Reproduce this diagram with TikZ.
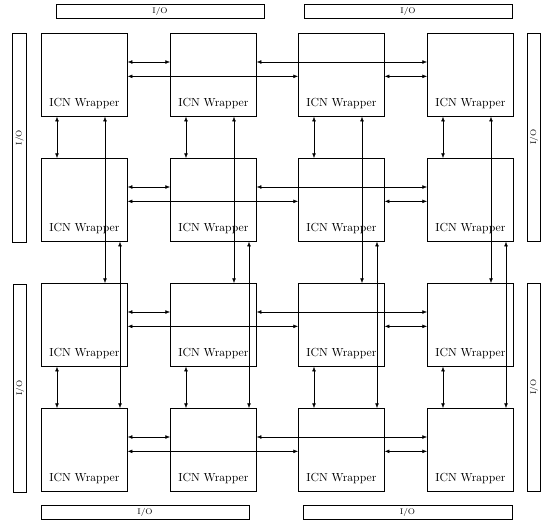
\documentclass[tikz,border=0pt]{standalone}
\usetikzlibrary{arrows.meta}
\begin{document}
\begin{tikzpicture}[x=0.03cm, y=-0.03cm, >={Latex[length=4pt,width=3.2pt]},
	wrapper/.style={draw, semithick, anchor=north west, minimum width=2.58cm, minimum height=2.49cm, inner sep=0pt},
	wraptext/.style={inner sep=0pt},
	iobar/.style={draw, semithick, minimum height=0.4cm, inner sep=0pt, font=\scriptsize}]
	\useasboundingbox (0,0) rectangle (543,523);
	\foreach \r/\ry in {1/33,2/158,3/283,4/408}
		\foreach \c/\cx in {1/41,2/170,3/298,4/427} {
			\node[wrapper] (w\r\c) at (\cx,\ry) {};
			\node[wraptext] (t\r\c) at ([yshift=0.39cm]w\r\c.south) {ICN Wrapper};
		}
	\foreach \r in {1,2,3,4} {
		\draw[<->] ([yshift=-0.87cm]w\r1.north east) -- ([yshift=-0.87cm]w\r2.north west);
		\draw[<->] ([yshift=-0.87cm]w\r2.north east) -- ([yshift=-0.87cm]w\r4.north west);
		\draw[<->] ([yshift=-1.3cm]w\r1.north east) -- ([yshift=-1.3cm]w\r3.north west);
		\draw[<->] ([yshift=-1.3cm]w\r3.north east) -- ([yshift=-1.3cm]w\r4.north west);
	}
	\foreach \c in {1,2,3,4} {
		\draw[<->] ([xshift=0.48cm]w1\c.south west) -- ([xshift=0.48cm]w2\c.north west);
		\draw[<->] ([xshift=1.92cm]w1\c.south west) -- ([xshift=1.92cm]w3\c.north west);
		\draw[<->] ([xshift=2.37cm]w2\c.south west) -- ([xshift=2.37cm]w4\c.north west);
		\draw[<->] ([xshift=0.48cm]w3\c.south west) -- ([xshift=0.48cm]w4\c.north west);
	}
	\node[iobar, minimum width=6.24cm] (iotl) at (160,11.5) {I/O};
	\node[iobar, minimum width=6.24cm] (iotr) at (408,11.5) {I/O};
	\node[iobar, minimum width=6.24cm] (iobl) at (145,512.5) {I/O};
	\node[iobar, minimum width=6.27cm] (iobr) at (407.5,512.5) {I/O};
	\node[iobar, minimum width=6.27cm, rotate=90] (iolt) at (19.5,137.5) {I/O};
	\node[iobar, minimum width=6.24cm, rotate=90] (iolb) at (20,388) {I/O};
	\node[iobar, minimum width=6.24cm, rotate=90] (iort) at (534,137) {I/O};
	\node[iobar, minimum width=6.24cm, rotate=90] (iorb) at (534,387) {I/O};
\end{tikzpicture}
\end{document}
